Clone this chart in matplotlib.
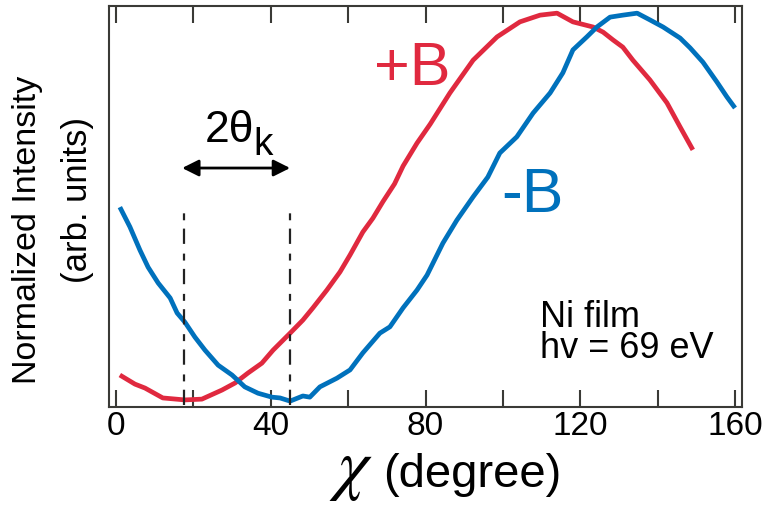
import numpy as np
import matplotlib
matplotlib.use('Agg')
import matplotlib.pyplot as plt

plt.rcParams['font.family'] = ['Liberation Sans', 'DejaVu Sans']
plt.rcParams['mathtext.fontset'] = 'stix'
plt.rcParams['lines.scale_dashes'] = False

# +B curve
red_x = [1.0, 4.9, 7.5, 12.1, 17.8, 22.2, 27.4, 30.8, 34.1, 37.7, 40.6, 45.0, 48.3,
         50.9, 54.5, 57.9, 60.5, 63.8, 66.4, 69.0, 72.0, 74.2, 77.8, 81.2, 86.3, 92.3,
         98.5, 104.4, 109.6, 114.0, 118.1, 123.3, 125.9, 128.5, 131.0, 133.6, 138.0,
         142.4, 145.8, 149.1]
red_y = [0.081, 0.058, 0.048, 0.023, 0.018, 0.020, 0.043, 0.061, 0.086, 0.111, 0.144,
         0.187, 0.220, 0.251, 0.296, 0.342, 0.385, 0.443, 0.478, 0.520, 0.565, 0.610,
         0.668, 0.716, 0.795, 0.878, 0.937, 0.975, 0.992, 0.997, 0.975, 0.962, 0.949,
         0.929, 0.911, 0.878, 0.828, 0.770, 0.709, 0.651]

# -B curve
blue_x = [1.0, 3.6, 6.2, 8.3, 10.9, 14.0, 15.8, 17.8, 20.4, 23.0, 26.4, 30.0, 33.3,
          36.7, 40.3, 42.4, 45.0, 48.3, 50.1, 52.7, 57.1, 60.5, 63.8, 68.2, 70.8, 74.2,
          77.8, 80.4, 84.5, 88.1, 92.3, 96.1, 99.2, 103.6, 107.8, 112.2, 115.5,
          118.1, 121.7, 124.3, 127.7, 131.0, 134.7, 138.0, 141.4, 145.8, 148.4, 151.7,
          155.3, 157.9, 160.0]
blue_y = [0.506, 0.456, 0.397, 0.354, 0.314, 0.276, 0.238, 0.215, 0.177, 0.144, 0.106,
          0.081, 0.051, 0.035, 0.025, 0.023, 0.015, 0.028, 0.025, 0.051, 0.073, 0.094,
          0.137, 0.187, 0.203, 0.251, 0.296, 0.334, 0.415, 0.473, 0.532, 0.582,
          0.643, 0.684, 0.744, 0.795, 0.846, 0.904, 0.937, 0.962, 0.987, 0.992, 0.997,
          0.980, 0.962, 0.934, 0.909, 0.873, 0.823, 0.785, 0.757]

theta_lines = [17.5, 45.0]
xticks = [0, 40, 80, 120, 160]

red = '#E0293F'
blue = '#0071BC'
frame = '#3a3a36'

fig = plt.figure(figsize=(7.64, 5.05), dpi=100)
ax = fig.add_axes([0.1427, 0.194, 0.8285, 0.794])

ax.plot(red_x, red_y, color=red, lw=3.4, solid_joinstyle='round', solid_capstyle='butt')
ax.plot(blue_x, blue_y, color=blue, lw=3.4, solid_joinstyle='round', solid_capstyle='butt')

for xv in theta_lines:
    ax.plot([xv, xv], [0.005, 0.494], color='#222222', lw=1.6,
            dashes=(11, 6, 5, 7))

ax.annotate('', xy=(45.0, 0.605), xytext=(17.1, 0.605),
            arrowprops=dict(arrowstyle='<|-|>', color='black', lw=2,
                            mutation_scale=25, shrinkA=0, shrinkB=0))
ax.text(23.0, 0.671, '2θ', fontsize=32, ha='left', va='baseline')
ax.text(35.4, 0.638, 'k', fontsize=28, ha='left', va='baseline')

ax.text(66.8, 0.815, '+B', color=red, fontsize=44, va='baseline')
ax.text(99.5, 0.494, '-B', color=blue, fontsize=45, va='baseline')
ax.text(109.6, 0.124, 'Ni film\nhv = 69 eV', fontsize=26, va='baseline',
        ha='left', multialignment='left', linespacing=0.86)

ax.set_xlim(-1.8, 161.8)
ax.set_ylim(0, 1.015)
ax.set_xticks(np.arange(0, 161, 20))
ax.set_xticklabels([str(v) if v in xticks else '' for v in range(0, 161, 20)])
ax.set_yticks([])
ax.tick_params(axis='x', direction='in', top=True, length=12, width=1.5,
               color=frame, labelsize=24, pad=3)
for s in ax.spines.values():
    s.set_color(frame)
    s.set_linewidth(1.5)

# x label: big italic chi followed by the unit text
fig.text(329 / 764, 18 / 505, r'$\chi$', fontsize=50, ha='left', va='baseline')
fig.text(383 / 764, 18 / 505, '(degree)', fontsize=34, ha='left', va='baseline')

fig.text(0.036, 0.545, 'Normalized Intensity', rotation=90, fontsize=24.5,
         ha='center', va='center')
fig.text(0.101, 0.603, '(arb. units)', rotation=90, fontsize=25,
         ha='center', va='center')

fig.savefig('out.png', dpi=100)
